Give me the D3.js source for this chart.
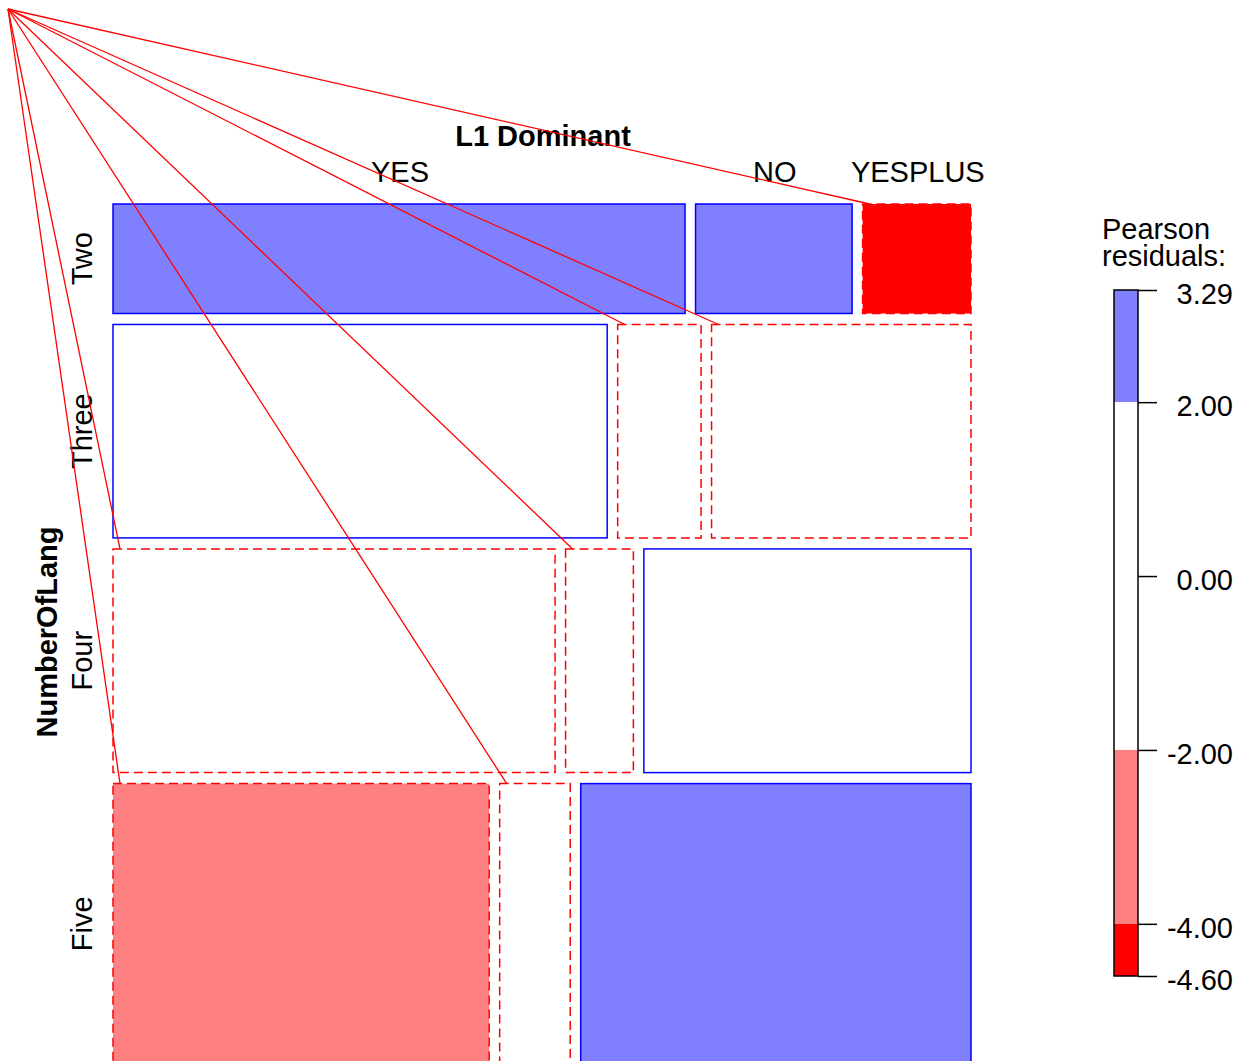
<!DOCTYPE html>
<html>
<head>
<meta charset="utf-8">
<script src="https://cdn.jsdelivr.net/npm/d3@7"></script>
<style>
  body { margin: 0; background: #ffffff; }
  svg { display: block; }
  text { font-family: "Liberation Sans", Arial, Helvetica, sans-serif; fill: #000; }
</style>
</head>
<body>
<svg id="chart" width="1244" height="1061"></svg>
<script>
// Contingency table: NumberOfLang (rows) x L1 Dominant (columns)
const rowLevels = ["Two", "Three", "Four", "Five"];
const colLevels = ["YES", "NO", "YESPLUS"];
const countsTwo   = [95, 26, 18];
const countsThree = [160, 27, 84];
const countsFour  = [150, 23, 111];
const countsFive  = [160, 30, 166];
const rowVarName = "NumberOfLang";
const colVarName = "L1 Dominant";

// Residual legend ticks (top to bottom) and shading cut points
const legendTicks = [3.29, 2.00, 0.00, -2.00, -4.00, -4.60];
const legendTitle = ["Pearson", "residuals:"];

const counts = [countsTwo, countsThree, countsFour, countsFive];
const rowTotals = counts.map(r => d3.sum(r));
const colTotals = colLevels.map((_, j) => d3.sum(counts, r => r[j]));
const n = d3.sum(rowTotals);
const resid = counts.map((r, i) => r.map((o, j) => {
  const e = rowTotals[i] * colTotals[j] / n;
  return (o - e) / Math.sqrt(e);
}));

function shade(r) {
  if (r > 4) return "#0000FF";
  if (r > 2) return "#8080FF";
  if (r < -4) return "#FF0000";
  if (r < -2) return "#FF8080";
  return "#FFFFFF";
}

const svg = d3.select("#chart");
const FONT = 29;

// Mosaic area
const X0 = 113, X1 = 971, Y0 = 204, Y1 = 1064, GAP = 11, HGAP = 10.5;
const yScale = d3.scaleLinear().domain([0, n])
  .range([0, (Y1 - Y0) - GAP * (rowLevels.length - 1)]);
const rowStart = [0, ...d3.cumsum(rowTotals)];

const cells = [];
rowLevels.forEach((rl, i) => {
  const top = Y0 + yScale(rowStart[i]) + GAP * i;
  const h = yScale(rowTotals[i]);
  const xScale = d3.scaleLinear().domain([0, rowTotals[i]])
    .range([0, (X1 - X0) - HGAP * (colLevels.length - 1)]);
  const colStart = [0, ...d3.cumsum(counts[i])];
  colLevels.forEach((cl, j) => {
    cells.push({
      row: rl, col: cl, i, j,
      x: X0 + xScale(colStart[j]) + HGAP * j,
      y: top, w: xScale(counts[i][j]), h,
      r: resid[i][j]
    });
  });
});

const gCells = svg.append("g");
gCells.selectAll("rect").data(cells).join("rect")
  .attr("x", d => d.x).attr("y", d => d.y)
  .attr("width", d => d.w).attr("height", d => d.h)
  .attr("fill", d => shade(d.r))
  .attr("stroke", d => d.r >= 0 ? "#0000FF" : "#FF0000")
  .attr("stroke-width", 1.5)
  .attr("stroke-dasharray", d => d.r >= 0 ? null : "9,5");

// Variable names
svg.append("text")
  .attr("x", (X0 + X1) / 2 + 1).attr("y", 146)
  .attr("text-anchor", "middle").attr("font-weight", "bold")
  .attr("font-size", FONT).text(colVarName);

const rowCenters = rowLevels.map((_, i) => {
  const c = cells.find(d => d.i === i && d.j === 0);
  return c.y + c.h / 2;
});
svg.append("text")
  .attr("transform", `translate(57,${(Y0 + Y1) / 2 - 2}) rotate(-90)`)
  .attr("text-anchor", "middle").attr("font-weight", "bold")
  .attr("font-size", FONT).text(rowVarName);

// Column level labels, centred over the first row's cells
svg.append("g").selectAll("text").data(cells.filter(d => d.i === 0)).join("text")
  .attr("x", d => d.x + d.w / 2 + 1).attr("y", 182)
  .attr("text-anchor", "middle").attr("font-size", FONT)
  .text(d => d.col);

// Row level labels
svg.append("g").selectAll("text").data(rowLevels).join("text")
  .attr("transform", (d, i) => `translate(92,${rowCenters[i]}) rotate(-90)`)
  .attr("text-anchor", "middle").attr("font-size", FONT)
  .text(d => d);

// Legend
const LX = 1114, LW = 24, LY0 = 290, LY1 = 976;
const ly = d3.scaleLinear()
  .domain([legendTicks[0], legendTicks[legendTicks.length - 1]])
  .range([LY0, LY1]);
const segs = d3.pairs(legendTicks);
const gLeg = svg.append("g");
gLeg.selectAll("rect.seg").data(segs).join("rect")
  .attr("class", "seg")
  .attr("x", LX).attr("width", LW)
  .attr("y", d => ly(d[0])).attr("height", d => ly(d[1]) - ly(d[0]))
  .attr("fill", d => shade((d[0] + d[1]) / 2));
gLeg.append("rect")
  .attr("x", LX).attr("y", LY0).attr("width", LW).attr("height", LY1 - LY0)
  .attr("fill", "none").attr("stroke", "#000").attr("stroke-width", 1.5);

const fmt = v => v.toFixed(2);
const axis = d3.axisRight(ly).tickValues(legendTicks).tickSize(19)
  .tickSizeOuter(0).tickFormat(fmt);
const gAxis = gLeg.append("g").attr("transform", `translate(${LX + LW},0)`).call(axis);
gAxis.select(".domain").remove();
gAxis.selectAll(".tick line").attr("stroke", "#000").attr("stroke-width", 1.5);
gAxis.selectAll(".tick text")
  .attr("x", 1233 - (LX + LW)).attr("dy", "0.47em").attr("text-anchor", "end")
  .attr("font-size", FONT).attr("font-family", null).attr("fill", "#000");

gLeg.selectAll("text.title").data(legendTitle).join("text")
  .attr("class", "title")
  .attr("x", 1102).attr("y", (d, i) => 239 + i * 27)
  .attr("font-size", FONT).text(d => d);

// Lines from the corner anchor to the start of each negative-residual cell outline
const anchor = [8, 9];
svg.append("g").selectAll("line").data(cells.filter(d => d.r < 0)).join("line")
  .attr("x1", anchor[0]).attr("y1", anchor[1])
  .attr("x2", d => d.x + 7).attr("y2", d => d.y)
  .attr("stroke", "#FF0000").attr("stroke-width", 1.3);
</script>
</body>
</html>
